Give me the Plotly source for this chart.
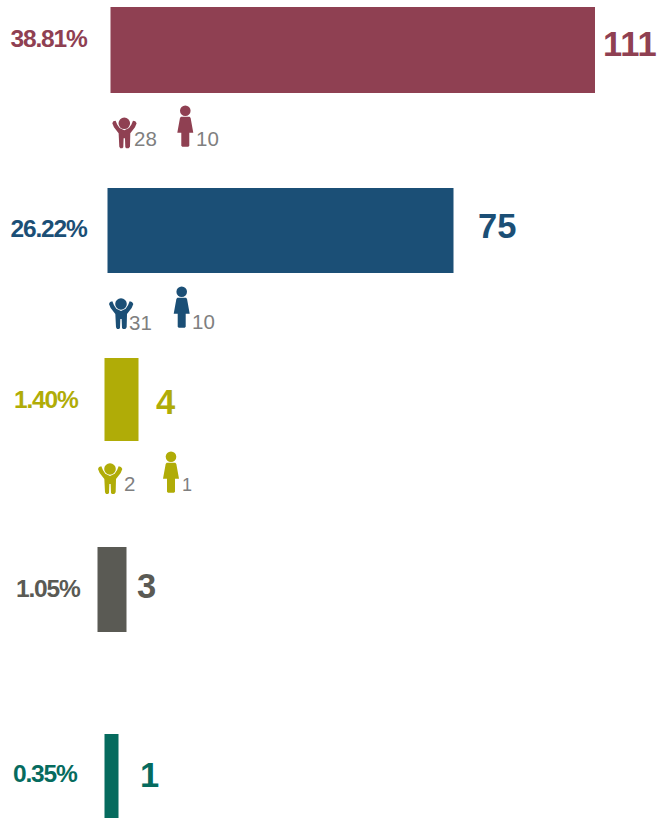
import plotly.graph_objects as go

# --- data ---
percent_labels = ["38.81%", "26.22%", "1.40%", "1.05%", "0.35%"]
totals = [111, 75, 4, 3, 1]
child_counts = [28, 31, 2]
adult_counts = [10, 10, 1]

# --- drawing set-up (the source bars are not to a common scale) ---
colors = ["#8f4052", "#1b4f76", "#b0ac07", "#5a5a54", "#066b5e"]
bar_left = [110.5, 107.5, 104.5, 97.5, 104.5]
bar_len = [484.5, 346, 34, 29, 14]
bar_mid = [50, 230.5, 399.5, 589.5, 776]
bar_thick = [86, 85, 83, 85, 84]
pct_x = [48, 48, 45.5, 48, 45]
pct_y = [38.5, 228.5, 399.5, 588.5, 773.5]
total_x = [629.5, 496.5, 165, 146.5, 149.5]
total_y = [44, 226, 402, 586, 775]
child_head = [(124.3, 123.3), (121, 304), (110, 469)]
adult_head = [(185.3, 110.7), (181.7, 291.7), (171, 456.7)]
child_text = [(134, 138), (129, 322), (124, 483)]
adult_text = [(196, 138), (192, 321), (182, 485)]

FONT = "Liberation Sans"
COUNT_GREY = "#7f7f7f"

CHILD = [(-36, 0), (-33, -6), (-26, -8), (-21, 4), (-14, 14), (0, 21), (14, 14), (21, 4), (26, -8),
         (33, -6), (37, 0), (32, 12), (18, 30), (17, 70), (13, 75), (6, 75), (3, 72), (2, 45),
         (-2, 45), (-3, 72), (-6, 75), (-12, 75), (-15, 70), (-17, 30), (-31, 12)]
ADULT = [(-13, 18), (13, 18), (16, 22), (24, 66), (12, 66), (12, 105), (9, 108),
         (-9, 108), (-12, 105), (-12, 66), (-24, 66), (-16, 22)]


def outline(points, cx, cy):
    pts = [f"{cx + px / 3:.2f},{cy + py / 3:.2f}" for px, py in points]
    return "M" + " L".join(pts) + " Z"


fig = go.Figure(go.Bar(
    orientation="h",
    base=bar_left,
    x=bar_len,
    y=bar_mid,
    width=bar_thick,
    marker=dict(color=colors, line=dict(width=0)),
    customdata=totals,
    hovertemplate="%{customdata}<extra></extra>",
))

shapes, notes = [], []
for i, c in enumerate(colors[:3]):
    for points, (hx, hy), r in ((CHILD, child_head[i], 5.8), (ADULT, adult_head[i], 5.3)):
        shapes.append(dict(type="path", xref="x", yref="y", path=outline(points, hx, hy),
                           fillcolor=c, line=dict(width=0)))
        shapes.append(dict(type="circle", xref="x", yref="y", x0=hx - r, x1=hx + r, y0=hy - r, y1=hy + r,
                           fillcolor=c, line=dict(width=0)))
    notes.append(dict(x=child_text[i][0], y=child_text[i][1], text=str(child_counts[i]),
                      xanchor="left", font=dict(size=20.5, color=COUNT_GREY, family=FONT)))
    notes.append(dict(x=adult_text[i][0], y=adult_text[i][1], text=str(adult_counts[i]),
                      xanchor="left",
                      font=dict(size=20.5 if adult_counts[i] > 9 else 18, color=COUNT_GREY, family=FONT)))

for i, c in enumerate(colors):
    notes.append(dict(x=pct_x[i], y=pct_y[i], text=percent_labels[i], xanchor="center",
                      font=dict(size=24.5, color=c, family=FONT, weight="bold")))
    notes.append(dict(x=total_x[i], y=total_y[i], text=str(totals[i]), xanchor="center",
                      font=dict(size=34.5, color=c, family=FONT, weight="bold")))

for n in notes:
    n.update(xref="x", yref="y", yanchor="middle", showarrow=False, borderpad=0, borderwidth=0)

fig.update_layout(
    width=657, height=819,
    margin=dict(l=0, r=0, t=0, b=0),
    paper_bgcolor="white", plot_bgcolor="white",
    showlegend=False,
    xaxis=dict(range=[0, 657], visible=False, fixedrange=True),
    yaxis=dict(range=[819, 0], visible=False, fixedrange=True),
    shapes=shapes,
    annotations=notes,
)

tighten = ("document.body.style.margin='0';document.body.style.overflow='hidden';"
           "document.querySelectorAll('.annotation-text').forEach(function(t){"
           "if(t.textContent.indexOf('%')>=0){t.style.letterSpacing='-1.2px';}});")
fig.write_html("out.html", config={"displayModeBar": False}, post_script=tighten)
